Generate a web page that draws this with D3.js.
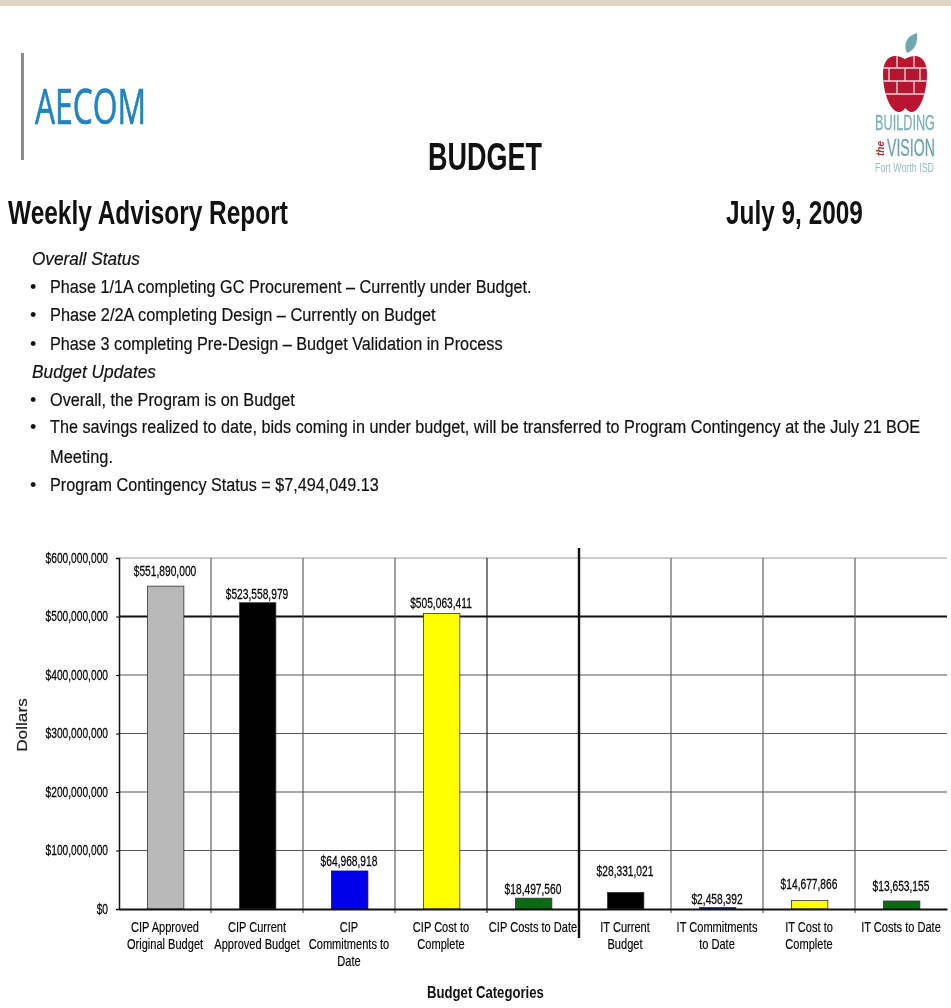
<!doctype html>
<html>

<head>
	<title>Budget</title>
	<meta charset="UTF-8">
	<script src="https://cdnjs.cloudflare.com/ajax/libs/d3/7.8.5/d3.min.js"></script>
	<style>
		html, body { margin: 0; padding: 0; background: #fff; }
		svg { display: block; filter: blur(0.45px); }
	</style>
</head>

<body>
	<script>

		// chart values
		var categories = [
			"CIP Approved Original Budget",
			"CIP Current Approved Budget",
			"CIP Commitments to Date",
			"CIP Cost to Complete",
			"CIP Costs to Date",
			"IT Current Budget",
			"IT Commitments to Date",
			"IT Cost to Complete",
			"IT Costs to Date"
		];
		var dollars = [551890000, 523558979, 64968918, 505063411, 18497560, 28331021, 2458392, 14677866, 13653155];
		var barColors = ["#b9b9b9", "#000000", "#0000e6", "#ffff00", "#0b6b12", "#000000", "#0000e6", "#ffff00", "#0b6b12"];
		var yTicks = [0, 100000000, 200000000, 300000000, 400000000, 500000000, 600000000];

		// how the category names break over lines
		var categoryLines = [
			["CIP Approved", "Original Budget"],
			["CIP Current", "Approved Budget"],
			["CIP", "Commitments to", "Date"],
			["CIP Cost to", "Complete"],
			["CIP Costs to Date"],
			["IT Current", "Budget"],
			["IT Commitments", "to Date"],
			["IT Cost to", "Complete"],
			["IT Costs to Date"]
		];

		// the value labels were placed by hand in the original, px above the bar
		var labelLift = [10, 4, 5, 6, 4, 16, 4, 11, 10];

		var width = 951, height = 1008;
		var arial = "'Liberation Sans', Arial, sans-serif";
		var tickStretch = 0.79;
		var valueStretch = 0.73;

		var svg = d3.select("body")
			.append("svg")
			.attr("width", width)
			.attr("height", height);

		// Band along the top
		svg.append("rect")
			.attr("width", width)
			.attr("height", 6)
			.attr("fill", "#ddd5c5");

		// Text squeezed to the width it has in the report
		function putText(parent, str, x, y, size, len, opts) {
			opts = opts || {};
			var t = parent.append("text")
				.attr("font-family", opts.family || arial)
				.attr("font-size", size)
				.attr("font-weight", opts.weight || "normal")
				.attr("font-style", opts.style || "normal")
				.attr("fill", opts.fill || "#111")
				.attr("stroke", opts.stroke ? (opts.fill || "#111") : null)
				.attr("stroke-width", opts.stroke || null)
				.text(str);
			var sx = len / t.node().getComputedTextLength();
			t.attr("transform", "translate(" + x + "," + y + ") scale(" + sx + ",1)");
			return t;
		}

		//////// Header
		var header = svg.append("g");

		header.append("rect")
			.attr("x", 21)
			.attr("y", 53)
			.attr("width", 3)
			.attr("height", 107)
			.attr("fill", "#8c8c8c");

		putText(header, "AECOM", 35, 124, 49, 111, {family: "'Open Sans', sans-serif", fill: "#2283bd", stroke: 0.7});

		putText(header, "BUDGET", 428, 170, 39, 114, {weight: "bold"});
		putText(header, "Weekly Advisory Report", 8, 224, 33, 280, {weight: "bold"});
		putText(header, "July 9, 2009", 726, 224, 33, 137, {weight: "bold"});

		//////// Logo
		var logo = svg.append("g");
		var applePath = "M905 59 C893 52 883 57 883 74 C883 92 890 112 899 112 C902 112 904 110 905 108 C907 110 909 112 912 112 C920 112 927 92 927 74 C927 57 917 52 905 59 Z";

		logo.append("clipPath")
			.attr("id", "appleClip")
			.append("path")
			.attr("d", applePath);

		logo.append("path")
			.attr("d", "M907 53 C903 45 906 36 917 33 C918 43 915 50 907 53 Z")
			.attr("fill", "#6fa9ad");
		logo.append("path")
			.attr("d", applePath)
			.attr("fill", "#b91430");

		// mortar lines of the brick apple
		var mortar = logo.append("g")
			.attr("clip-path", "url(#appleClip)")
			.attr("stroke", "#f0d5da")
			.attr("stroke-width", 1.3);
		[68, 81, 94].forEach(function(y) {
			mortar.append("line").attr("x1", 883).attr("x2", 927).attr("y1", y).attr("y2", y);
		});
		[[897, 56, 68], [914, 56, 68], [889, 68, 81], [905, 68, 81], [920, 68, 81], [897, 81, 94], [914, 81, 94]].forEach(function(b) {
			mortar.append("line").attr("x1", b[0]).attr("x2", b[0]).attr("y1", b[1]).attr("y2", b[2]);
		});

		putText(logo, "BUILDING", 875, 130, 22, 60, {fill: "#7fb1b6", stroke: 0.3});
		putText(logo, "VISION", 887, 156, 23, 48, {fill: "#6fa3aa", stroke: 0.3});
		putText(logo, "Fort Worth ISD", 875, 172, 12, 59, {fill: "#98bdc1"});
		logo.append("text")
			.attr("transform", "translate(884,156) rotate(-90)")
			.attr("font-family", arial)
			.attr("font-style", "italic")
			.attr("font-weight", "bold")
			.attr("font-size", 10)
			.attr("fill", "#b0283c")
			.text("the");

		//////// Status notes
		var notes = svg.append("g");

		putText(notes, "Overall Status", 32, 265, 19, 108, {style: "italic", stroke: 0.2});
		putText(notes, "Phase 1/1A completing GC Procurement \u2013 Currently under Budget.", 50, 293, 19, 482, {stroke: 0.2});
		putText(notes, "Phase 2/2A completing Design \u2013 Currently on Budget", 50, 321, 19, 386, {stroke: 0.2});
		putText(notes, "Phase 3 completing Pre-Design \u2013 Budget Validation in Process", 50, 350, 19, 453, {stroke: 0.2});
		putText(notes, "Budget Updates", 32, 378, 19, 124, {style: "italic", stroke: 0.2});
		putText(notes, "Overall, the Program is on Budget", 50, 406, 19, 245, {stroke: 0.2});
		putText(notes, "The savings realized to date, bids coming in under budget, will be transferred to Program Contingency at the July 21 BOE", 50, 433, 19, 871, {stroke: 0.2});
		putText(notes, "Meeting.", 50, 463, 19, 63, {stroke: 0.2});
		putText(notes, "Program Contingency Status = $7,494,049.13", 50, 491, 19, 329, {stroke: 0.2});

		[293, 321, 350, 406, 433, 491].forEach(function(y) {
			notes.append("text")
				.attr("x", 30)
				.attr("y", y)
				.attr("font-family", arial)
				.attr("font-size", 18)
				.attr("fill", "#111")
				.text("\u2022");
		});

		//////// Chart
		var plot = {left: 119, right: 947, top: 558, bottom: 909};

		var x = d3.scaleBand()
			.domain(categories)
			.range([plot.left, plot.right])
			.paddingInner(0)
			.paddingOuter(0);

		var y = d3.scaleLinear()
			.domain([0, 600000000])
			.range([plot.bottom, plot.top]);

		var chart = svg.append("g");

		// horizontal gridlines, the $500M one is heavier in the original
		chart.append("g")
			.selectAll("line")
			.data(yTicks.slice(1))
			.enter()
			.append("line")
			.attr("x1", plot.left)
			.attr("x2", plot.right)
			.attr("y1", function(d) { return y(d); })
			.attr("y2", function(d) { return y(d); })
			.attr("stroke", function(d) { return d == 500000000 ? "#111" : d == 600000000 ? "#999" : "#555"; })
			.attr("stroke-width", function(d) { return d == 500000000 ? 2 : 1.1; });

		// vertical gridlines on the band edges
		chart.append("g")
			.selectAll("line")
			.data(categories.slice(1))
			.enter()
			.append("line")
			.attr("x1", function(d) { return x(d); })
			.attr("x2", function(d) { return x(d); })
			.attr("y1", plot.top)
			.attr("y2", plot.bottom + 4)
			.attr("stroke", function(d) { return d == categories[4] ? "#111" : "#555"; })
			.attr("stroke-width", 1.1);

		// bars
		chart.append("g")
			.selectAll("rect")
			.data(categories)
			.enter()
			.append("rect")
			.attr("x", function(d) { return x(d) + x.bandwidth() * 0.31; })
			.attr("width", x.bandwidth() * 0.395)
			.attr("y", function(d, i) { return y(dollars[i]); })
			.attr("height", function(d, i) { return plot.bottom - y(dollars[i]); })
			.attr("fill", function(d, i) { return barColors[i]; })
			.attr("stroke", function(d, i) { return i == 2 ? "#0000b0" : "#333"; })
			.attr("stroke-width", 0.8);

		// value labels
		chart.append("g")
			.selectAll("text")
			.data(categories)
			.enter()
			.append("text")
			.attr("transform", function(d, i) {
				return "translate(" + (x(d) + x.bandwidth() * 0.5) + "," + (y(dollars[i]) - labelLift[i]) + ") scale(" + valueStretch + ",1)";
			})
			.attr("text-anchor", "middle")
			.attr("font-family", arial)
			.attr("font-size", 14)
			.attr("fill", "#000")
			.attr("stroke", "#000")
			.attr("stroke-width", 0.25)
			.text(function(d, i) { return d3.format("$,")(dollars[i]); });

		// y axis
		var yAxis = chart.append("g")
			.attr("transform", "translate(" + plot.left + ",0)")
			.call(d3.axisLeft(y)
				.tickValues(yTicks)
				.tickSize(3)
				.tickFormat(d3.format("$,")));
		yAxis.select(".domain").attr("stroke", "#111").attr("stroke-width", 1.5);
		yAxis.selectAll("text")
			.attr("x", 0)
			.attr("transform", "translate(-11,0) scale(" + valueStretch + ",1)")
			.attr("font-family", arial)
			.attr("font-size", 14)
			.attr("fill", "#000")
			.attr("stroke", "#000")
			.attr("stroke-width", 0.25);

		// x axis, labels centred in the bands and wrapped by hand
		var xAxis = chart.append("g")
			.attr("transform", "translate(0," + plot.bottom + ")")
			.call(d3.axisBottom(x).tickSize(0).tickPadding(0));
		xAxis.select(".domain").attr("stroke", "#111").attr("stroke-width", 2);
		xAxis.selectAll("text")
			.attr("font-family", arial)
			.attr("font-size", 14)
			.attr("fill", "#000")
			.attr("stroke", "#000")
			.attr("stroke-width", 0.15)
			.attr("y", 0)
			.attr("dy", 0)
			.attr("transform", "scale(" + tickStretch + ",1)")
			.each(function(d, i) {
				var label = d3.select(this).text(null);
				categoryLines[i].forEach(function(line, n) {
					label.append("tspan")
						.attr("x", 0)
						.attr("y", 23 + n * 17)
						.text(line);
				});
			});

		// heavy line between the CIP and IT groups
		chart.append("line")
			.attr("x1", x(categories[5]))
			.attr("x2", x(categories[5]))
			.attr("y1", 548)
			.attr("y2", 938)
			.attr("stroke", "#111")
			.attr("stroke-width", 2.4);

		// axis titles
		chart.append("text")
			.attr("transform", "translate(27,725) rotate(-90) scale(1.15,1)")
			.attr("text-anchor", "middle")
			.attr("font-family", arial)
			.attr("font-size", 15)
			.attr("fill", "#222")
			.attr("stroke", "#222")
			.attr("stroke-width", 0.2)
			.text("Dollars");

		putText(chart, "Budget Categories", 427, 998, 17, 117, {weight: "bold"});

	</script>
</body>
</html>
